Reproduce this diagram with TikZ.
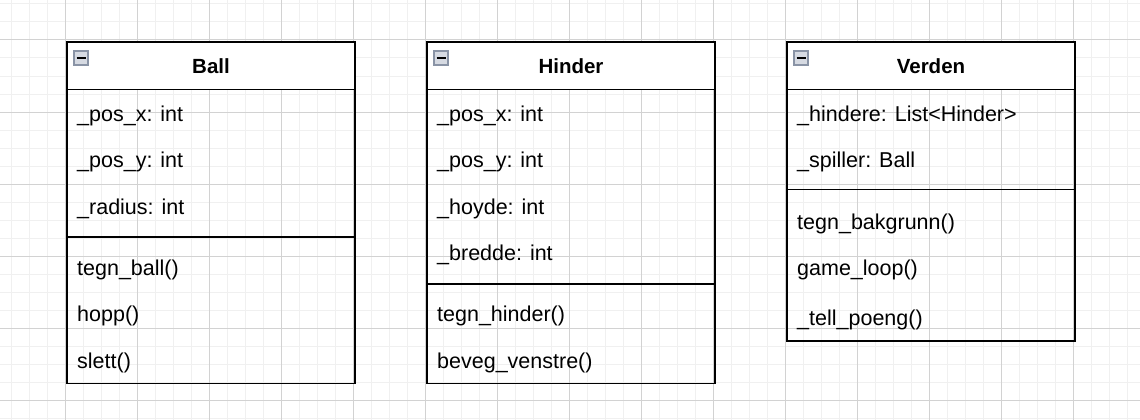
\documentclass[tikz,border=0pt]{standalone}
\usepackage{fontspec}
\setmainfont{Liberation Sans}
\usepackage{tikz}
\usetikzlibrary{positioning}
\definecolor{gridminor}{HTML}{F0F0F0}
\definecolor{gridmajor}{HTML}{D2D2D2}
\definecolor{iconedge}{HTML}{8A94A6}
\definecolor{iconfill}{HTML}{D6DAE2}
\tikzset{
  minorline/.style={draw=gridminor, line width=1pt},
  majorline/.style={draw=gridmajor, line width=1pt},
  classhead/.style={
    draw=black, fill=white, line width=1.6pt,
    minimum width=288pt, minimum height=47pt,
    inner sep=0pt, outer sep=0pt,
    font=\bfseries\fontsize{20.5}{24}\selectfont
  },
  classpart/.style={
    draw=black, line width=1.6pt, minimum width=288pt,
    inner sep=0pt, outer sep=0pt
  },
  member/.style={anchor=base west, inner sep=0pt,
    font=\fontsize{21.5}{25}\selectfont},
  collapsebox/.style={
    draw=iconedge, fill=iconfill, line width=1.2pt,
    minimum size=14pt, inner sep=0pt,
    path picture={
      \draw[black, line width=2pt]
        ([xshift=-4.5pt]path picture bounding box.center) --
        ([xshift=4.5pt]path picture bounding box.center);
    }
  }
}

\begin{document}
\begin{tikzpicture}[x=1pt,y=-1pt]
  \useasboundingbox (0,0) rectangle (1140,420);
  \clip (0,0) rectangle (1140,420);
  \fill[white] (0,0) rectangle (1140,420);

  % grid
  \foreach \k in {0,...,62}
    \draw[minorline] ({11.3+18*\k},0) -- ({11.3+18*\k},420);
  \foreach \k in {0,...,23}
    \draw[minorline] (0,{4+18*\k}) -- (1140,{4+18*\k});
  \foreach \k in {0,...,15}
    \draw[majorline] ({65.3+72*\k},0) -- ({65.3+72*\k},420);
  \foreach \k in {0,...,5}
    \draw[majorline] (0,{40+72*\k}) -- (1140,{40+72*\k});

  % Ball
  \node[classhead] (ballhead) at (211,65.8) {Ball};
  \node[classpart, minimum height=147.7pt, below=0pt of ballhead] (ballattr) {};
  \node[classpart, minimum height=146.3pt, below=0pt of ballattr] (ballops) {};
  \node[collapsebox] (ballmin) at (81,58) {};
  \foreach \txt [count=\k] in {\_pos\_x: int, \_pos\_y: int, \_radius: int}
    \node[member] (ball-a\k) at (77,{121+46.5*(\k-1)}) {\txt};
  \foreach \txt [count=\k] in {tegn\_ball(), hopp(), slett()}
    \node[member] (ball-m\k) at (77,{275+46.5*(\k-1)}) {\txt};

  % Hinder
  \node[classhead] (hinderhead) at (571,65.8) {Hinder};
  \node[classpart, minimum height=194.7pt, below=0pt of hinderhead] (hinderattr) {};
  \node[classpart, minimum height=99.3pt, below=0pt of hinderattr] (hinderops) {};
  \node[collapsebox] (hindermin) at (441,58) {};
  \foreach \txt [count=\k] in {\_pos\_x: int, \_pos\_y: int, \_hoyde: int, \_bredde: int}
    \node[member] (hinder-a\k) at (437,{121+46.5*(\k-1)}) {\txt};
  \foreach \txt [count=\k] in {tegn\_hinder(), beveg\_venstre()}
    \node[member] (hinder-m\k) at (437,{321.5+46.5*(\k-1)}) {\txt};

  % Verden
  \node[classhead] (verdenhead) at (931,65.8) {Verden};
  \node[classpart, minimum height=100.2pt, below=0pt of verdenhead] (verdenattr) {};
  \node[classpart, minimum height=151.5pt, below=0pt of verdenattr] (verdenops) {};
  \node[collapsebox] (verdenmin) at (801,58) {};
  \foreach \txt [count=\k] in {\_hindere: List<Hinder>, \_spiller: Ball}
    \node[member] (verden-a\k) at (797,{121+46.5*(\k-1)}) {\txt};
  \foreach \txt/\yy [count=\k] in {tegn\_bakgrunn()/229, game\_loop()/275.7, \_tell\_poeng()/325.7}
    \node[member] (verden-m\k) at (797,\yy) {\txt};
\end{tikzpicture}
\end{document}
